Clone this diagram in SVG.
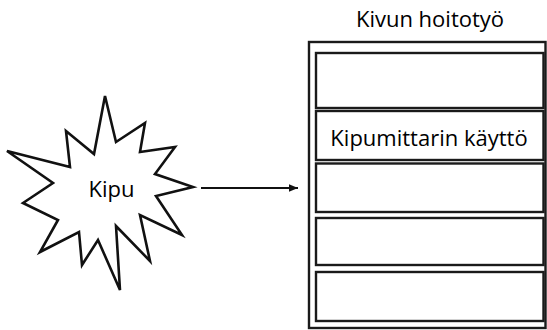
<svg xmlns="http://www.w3.org/2000/svg" width="547" height="330" viewBox="0 0 547 330">
  <style>
    .box { fill: #ffffff; stroke: #1a1a1a; stroke-width: 2.4; }
    .label { font-family: "Open Sans", "Liberation Sans", sans-serif; fill: #000000; }
    .edge { stroke: #111111; stroke-width: 2.2; fill: none; }
  </style>
  <defs>
    <marker id="arrowhead" markerWidth="10" markerHeight="10" refX="9" refY="5" orient="auto" markerUnits="userSpaceOnUse">
      <path d="M0,1.2 L9,5 L0,8.8 Z" fill="#111111"/>
    </marker>
  </defs>
  <rect width="547" height="330" fill="#ffffff"/>

  <!-- pain burst -->
  <g id="kipu">
    <polygon points="105,96 116,142 145,123 140,152 175,147 155,174 193,187 156,196 182,235 140,215 150,261 116,226 120,290 98,240 82,265 79,232 40,252 58,220 23,203 53,183 7,151 70,167 66,131 94,154" fill="#ffffff" stroke="#111111" stroke-width="2.6" stroke-linejoin="miter"/>
    <text class="label" x="111.5" y="197" font-size="22" text-anchor="middle">Kipu</text>
  </g>

  <!-- care container -->
  <g id="kivun-hoitotyo">
    <text class="label" x="430" y="27" font-size="22" text-anchor="middle">Kivun hoitotyö</text>
    <rect class="box" x="309" y="42" width="236.5" height="286"/>
  </g>
  <g id="osa-1"><rect class="box" x="316" y="53" width="227.5" height="55"/></g>
  <g id="osa-2">
    <rect class="box" x="316" y="111" width="227.5" height="49"/>
    <text class="label" x="429" y="146" font-size="22" text-anchor="middle">Kipumittarin käyttö</text>
  </g>
  <g id="osa-3"><rect class="box" x="316" y="163.5" width="227.5" height="48.5"/></g>
  <g id="osa-4"><rect class="box" x="316" y="218" width="227.5" height="47"/></g>
  <g id="osa-5"><rect class="box" x="316" y="272" width="227.5" height="49"/></g>

  <!-- connectors -->
  <g id="connectors">
    <line class="edge" x1="201" y1="188" x2="298" y2="188" marker-end="url(#arrowhead)"/>
  </g>
</svg>
